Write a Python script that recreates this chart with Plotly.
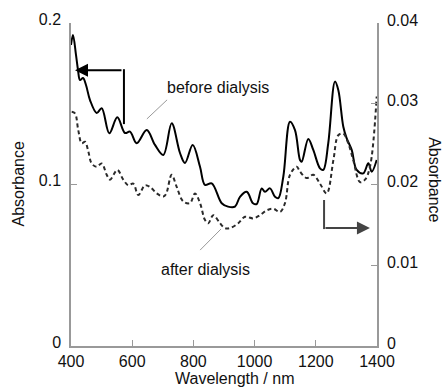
import plotly.graph_objects as go

# ---- data ----
wl_before = [400, 406.5, 416.3, 422.9, 429.4, 439.2, 449.0, 462.1, 484.0, 500.3, 525.2, 551.3,
             576.5, 592.8, 614.7, 647.4, 674.5, 701.6, 729.1, 756.2, 772.5, 797.7, 821.6, 837.9,
             859.8, 892.5, 913.1, 935.9, 952.3, 974.2, 994.8, 1006.9, 1023.2, 1034.0, 1050.3,
             1066.7, 1077.5, 1093.8, 1115.7, 1132.0, 1148.4, 1153.9, 1175.5, 1191.8, 1213.7,
             1224.5, 1240.8, 1262.7, 1273.5, 1289.9, 1301.0, 1317.3, 1333.7, 1355.2, 1371.6,
             1382.7, 1399]
abs_before = [0.1864, 0.1926, 0.1802, 0.1709, 0.1647, 0.1659, 0.1616, 0.1523, 0.1443, 0.1472,
              0.1317, 0.1416, 0.1319, 0.1327, 0.1255, 0.1337, 0.1245, 0.1183, 0.1379, 0.1195,
              0.1133, 0.1245, 0.1110, 0.0997, 0.1007, 0.0884, 0.0863, 0.0863, 0.0924, 0.0955,
              0.0884, 0.0879, 0.0976, 0.0955, 0.0976, 0.0924, 0.0915, 0.1048, 0.1389, 0.1337,
              0.1152, 0.1141, 0.1282, 0.1214, 0.1100, 0.1090, 0.1257, 0.1637, 0.1585, 0.1358,
              0.1286, 0.1214, 0.1090, 0.1069, 0.1131, 0.1079, 0.1152]

wl_after = [402.3, 413.1, 423.9, 435.0, 445.8, 456.5, 467.6, 484.0, 500.3, 516.7, 527.5, 551.3,
            570.9, 587.3, 603.6, 619.9, 641.8, 658.2, 680.1, 701.6, 710.5, 729.1, 745.4, 767.0,
            788.9, 805.2, 821.6, 837.9, 848.7, 865.0, 886.9, 903.3, 919.6, 946.7, 968.6, 995.8,
            1017.6, 1039.5, 1061.1, 1083.0, 1099.3, 1115.7, 1137.6, 1148.4, 1170.3, 1191.8,
            1213.7, 1235.6, 1257.4, 1273.5, 1289.9, 1306.2, 1322.5, 1344.4, 1360.8, 1377.1, 1399]
abs_after = [0.0290, 0.0288, 0.0267, 0.0251, 0.0253, 0.0241, 0.0226, 0.0222, 0.0226, 0.0212,
             0.0206, 0.0218, 0.0206, 0.0199, 0.0201, 0.0187, 0.0199, 0.0197, 0.0189, 0.0185,
             0.0188, 0.0212, 0.0197, 0.0179, 0.0177, 0.0189, 0.0177, 0.0156, 0.0152, 0.0162,
             0.0152, 0.0146, 0.0146, 0.0152, 0.0160, 0.0158, 0.0162, 0.0168, 0.0170, 0.0166,
             0.0177, 0.0212, 0.0222, 0.0216, 0.0208, 0.0212, 0.0201, 0.0189, 0.0230, 0.0261,
             0.0263, 0.0251, 0.0230, 0.0203, 0.0206, 0.0222, 0.0309]

x_ticks = [400, 600, 800, 1000, 1200, 1400]
y_ticks = [0, 0.1, 0.2]
y2_ticks = [0, 0.01, 0.02, 0.03, 0.04]

FONT = "Liberation Sans, Arial, sans-serif"
FS = 16
AXC = "#999999"

fig = go.Figure()
fig.add_trace(go.Scatter(x=wl_before, y=abs_before, mode="lines", line_shape="spline",
                         line=dict(color="#000000", width=2), yaxis="y", showlegend=False))
fig.add_trace(go.Scatter(x=wl_after, y=abs_after, mode="lines", line_shape="spline",
                         line=dict(color="#2a2a2a", width=2, dash="4px,3px"), yaxis="y2",
                         showlegend=False))

fig.update_layout(
    width=446, height=388,
    margin=dict(l=71, r=69, t=23, b=42),
    paper_bgcolor="white", plot_bgcolor="white",
    font=dict(family=FONT, size=FS, color="#111111"),
    xaxis=dict(range=[400, 1400], tickvals=x_ticks, showline=True, linecolor=AXC, linewidth=1.5,
               ticks="inside", ticklen=6, tickcolor=AXC, showgrid=False, zeroline=False,
               tickfont=dict(size=FS), ticklabelstandoff=0),
    yaxis=dict(range=[0, 0.2], tickvals=y_ticks, ticktext=["0", "0.1", "0.2"], showline=True,
               linecolor=AXC, linewidth=1.5, ticks="inside", ticklen=6, tickcolor=AXC,
               showgrid=False, zeroline=False, tickfont=dict(size=FS), ticklabelstandoff=5,
               ticklabelshift=-4),
    yaxis2=dict(range=[0, 0.04], tickvals=y2_ticks, ticktext=["0", "0.01", "0.02", "0.03", "0.04"],
                overlaying="y", side="right", showline=True, linecolor=AXC, linewidth=1.5,
                ticks="inside", ticklen=6, tickcolor=AXC, showgrid=False, zeroline=False,
                tickfont=dict(size=FS), ticklabelstandoff=5, ticklabelshift=-3),
)

annotations = [
    dict(text="Absorbance", x=-0.170, y=0.503, xref="paper", yref="paper", textangle=-90,
         showarrow=False, xanchor="center", yanchor="middle"),
    dict(text="Absorbance", x=1.188, y=0.515, xref="paper", yref="paper", textangle=90,
         showarrow=False, xanchor="center", yanchor="middle"),
    dict(text="Wavelength / nm", x=0.534, y=-0.101, xref="paper", yref="paper",
         showarrow=False, xanchor="center", yanchor="middle"),
    dict(text="before dialysis", x=0.480, y=0.799, xref="paper", yref="paper",
         showarrow=False, xanchor="center", yanchor="middle"),
    dict(text="after dialysis", x=0.438, y=0.238, xref="paper", yref="paper",
         showarrow=False, xanchor="center", yanchor="middle"),
    # arrow heads
    dict(x=0.013, y=0.854, xref="paper", yref="paper", ax=48, ay=0, showarrow=True,
         arrowhead=2, arrowsize=1.3, arrowwidth=2, arrowcolor="#000000", standoff=0, text=""),
    dict(x=0.977, y=0.365, xref="paper", yref="paper", ax=-46, ay=0, showarrow=True,
         arrowhead=2, arrowsize=1.3, arrowwidth=2, arrowcolor="#444444", standoff=0, text=""),
]
fig.update_layout(annotations=annotations)

shapes = [
    dict(type="line", xref="paper", yref="paper", x0=0.173, y0=0.687, x1=0.173, y1=0.857,
         line=dict(color="#000000", width=2)),
    dict(type="line", xref="paper", yref="paper", x0=0.827, y0=0.452, x1=0.827, y1=0.362,
         line=dict(color="#444444", width=2)),
    dict(type="line", xref="paper", yref="paper", x0=0.248, y0=0.703, x1=0.314, y1=0.762,
         line=dict(color="#999999", width=1)),
    dict(type="line", xref="paper", yref="paper", x0=0.422, y0=0.297, x1=0.490, y1=0.362,
         line=dict(color="#999999", width=1)),
]
fig.update_layout(shapes=shapes)

fig.write_html("out.html")
